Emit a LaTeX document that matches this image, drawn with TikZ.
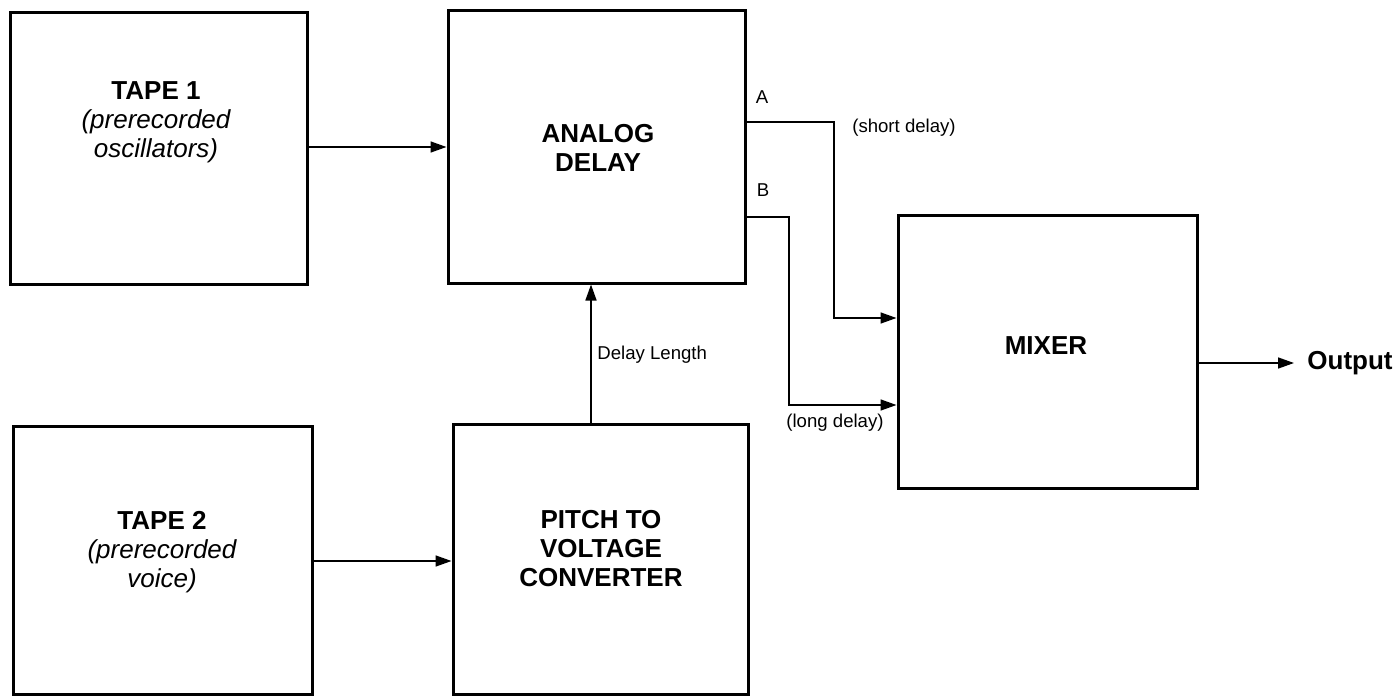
\documentclass[tikz,border=0pt]{standalone}
\usepackage{fontspec}
\setmainfont{Liberation Sans}
\usetikzlibrary{arrows.meta}
\begin{document}
\begin{tikzpicture}[x=0.5pt,y=-0.5pt,
  blk/.style={draw, line width=1.5pt, rectangle, inner sep=0pt},
  ttl/.style={align=center, font=\fontsize{13}{14.5}\selectfont\bfseries, inner sep=0pt},
  lbl/.style={font=\fontsize{9.3}{11}\selectfont, inner sep=0pt},
  conn/.style={line width=0.8pt},
  arr/.style={conn, -{Triangle[length=8pt,width=5.5pt]}}]
\useasboundingbox (0,0) rectangle (1399,696);
% boxes
\node[blk, minimum width=148.5pt, minimum height=136pt] (tape1) at (158.5,148) {};
\node[blk, minimum width=148.5pt, minimum height=136.5pt] (analog) at (596.5,146.5) {};
\node[blk, minimum width=149.5pt, minimum height=136.5pt] (mixer) at (1047.5,351.5) {};
\node[blk, minimum width=149.5pt, minimum height=134pt] (tape2) at (162.5,560) {};
\node[blk, minimum width=147.5pt, minimum height=135pt] (pitch) at (600.5,559) {};
% box texts
\node[ttl] (t1txt) at (156,122) {TAPE 1\\{\itshape\mdseries (prerecorded}\\{\itshape\mdseries oscillators)}};
\node[ttl] (antxt) at (598,147.5) {ANALOG\\DELAY};
\node[ttl] (mxtxt) at (1046,346) {MIXER};
\node[ttl] (t2txt) at (162,552) {TAPE 2\\{\itshape\mdseries (prerecorded}\\{\itshape\mdseries voice)}};
\node[ttl] (pttxt) at (601,549) {PITCH TO\\VOLTAGE\\CONVERTER};
% helper coordinates
\coordinate (ya) at (0,122);
\coordinate (ya2) at (0,318);
\coordinate (yb) at (0,217);
\coordinate (yb2) at (0,405);
\coordinate (xa) at (834,0);
\coordinate (xb) at (789,0);
\coordinate (xd) at (591,0);
\coordinate (yo) at (0,363);
% labels
\node[lbl] (la) at (762,97) {A};
\node[lbl] (lb) at (763,190) {B};
\node[lbl] (lshort) at (904,128) {(short delay)};
\node[lbl] (llong) at (835,423) {(long delay)};
\node[lbl, anchor=west] (ldl) at (597,355) {Delay Length};
\node[font=\fontsize{13}{14.5}\selectfont\bfseries, anchor=west, inner sep=0pt] (outl) at (1307,363) {Output};
\coordinate (outend) at (1294,363);
% connectors
\draw[arr] (tape1.east |- 0,147) -- (analog.west |- 0,147);
\draw[arr] (tape2.east |- 0,561) -- (pitch.west |- 0,561);
\draw[arr] (pitch.north -| xd) -- (analog.south -| xd);
\draw[arr] (analog.east |- ya) -| (xa |- ya2) -- (mixer.west |- ya2);
\draw[arr] (analog.east |- yb) -| (xb |- yb2) -- (mixer.west |- yb2);
\draw[arr] (mixer.east |- yo) -- (outend);
\end{tikzpicture}
\end{document}
